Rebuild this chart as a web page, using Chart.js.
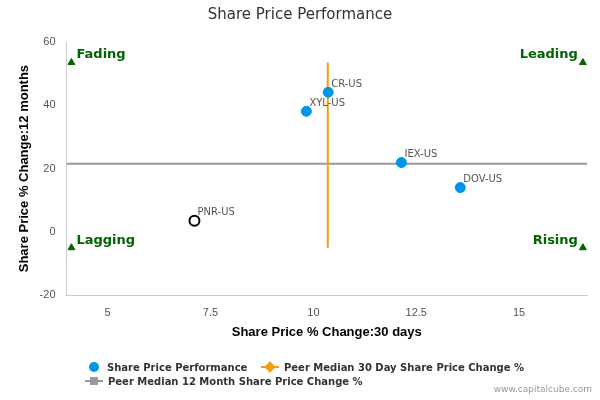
<!DOCTYPE html>
<html><head><meta charset="utf-8">
<script src="https://cdn.jsdelivr.net/npm/chart.js@4"></script>
<style>
body{margin:0;width:600px;height:400px;background:#fff;font-family:"DejaVu Sans",sans-serif;position:relative;overflow:hidden}
#c{position:absolute;left:0;top:0}
.lg{position:absolute;font-size:10px;font-weight:bold;color:#333;white-space:nowrap}
.cr{display:inline-block;width:10px;height:10px;border-radius:50%;background:#0095e8;vertical-align:-1px;margin-right:8px;margin-left:4px}
.ln{display:inline-block;width:18px;height:2px;vertical-align:3px;margin-right:5px;position:relative}
.ln i{position:absolute;left:5px;top:-3px;width:8px;height:8px}
.credit{position:absolute;right:8px;bottom:6px;font-size:9px;color:#999}
</style></head><body>
<canvas id="c" width="600" height="400"></canvas>
<div class="lg" style="left:85px;top:362px"><span class="cr"></span>Share Price Performance</div>
<div class="lg" style="left:261px;top:362px"><span class="ln" style="background:#f39c12"><i style="background:#f39c12;transform:rotate(45deg)"></i></span>Peer Median 30 Day Share Price Change %</div>
<div class="lg" style="left:85px;top:376px"><span class="ln" style="background:#999"><i style="background:#999"></i></span>Peer Median 12 Month Share Price Change %</div>
<div class="credit">www.capitalcube.com</div>
<script>
const tickers=["CR-US","XYL-US","IEX-US","DOV-US","PNR-US"];
const x30=[10.36,9.83,12.14,13.57,7.11];
const y12=[44.1,38.1,21.9,14.0,3.5];
const medianX=10.35, medianY=21.5;
const quadNames=["Fading","Leading","Lagging","Rising"];
const quadX=[4.12,16.55,4.12,16.55];
const quadY=[53.5,53.5,-5,-5];
const xRange=[4.0,16.65], yRange=[-20,60];

const main=tickers.slice(0,4).map((t,i)=>({x:x30[i],y:y12[i]}));
const pnr=[{x:x30[4],y:y12[4]}];
const labelPlugin={id:'lbl',afterDatasetsDraw(ch){
 const c=ch.ctx,xs=ch.scales.x,ys=ch.scales.y;
 c.save();c.font='10px "DejaVu Sans"';c.fillStyle='#555';c.textBaseline='bottom';c.textAlign='left';
 tickers.forEach((t,i)=>c.fillText(t,xs.getPixelForValue(x30[i])+3,ys.getPixelForValue(y12[i])-3));
 c.font='bold 13px "DejaVu Sans"';c.fillStyle='#006400';
 quadNames.forEach((q,i)=>{const px=xs.getPixelForValue(quadX[i]),py=ys.getPixelForValue(quadY[i]);
  c.textAlign=i%2?'right':'left';c.textBaseline='bottom';c.fillText(q,px+(i%2?-5:5),py-1);});
 c.restore();}};
new Chart(document.getElementById('c'),{
 type:'scatter',
 data:{datasets:[
  {data:main,backgroundColor:'#0095e8',borderColor:'#0095e8',pointRadius:5,order:1},
  {data:pnr,backgroundColor:'#fff',borderColor:'#000',borderWidth:2,pointRadius:5,order:1},
  {type:'line',data:[{x:medianX,y:quadY[0]},{x:medianX,y:quadY[2]}],borderColor:'#f39c12',borderWidth:2,pointRadius:0,order:2},
  {type:'line',data:[{x:xRange[0],y:medianY},{x:xRange[1],y:medianY}],borderColor:'#999',borderWidth:2,pointRadius:0,order:3},
  {data:quadX.map((x,i)=>({x,y:quadY[i]})),pointStyle:'triangle',backgroundColor:'#006400',borderColor:'#006400',pointRadius:4,order:0}
 ]},
 options:{responsive:false,animation:false,
  layout:{padding:{left:13,right:13,top:0,bottom:56}},
  plugins:{legend:{display:false},tooltip:{enabled:false},
   title:{display:true,text:'Share Price Performance',color:'#333',font:{size:15,weight:'normal',family:'"DejaVu Sans"'},padding:{top:6,bottom:18}}},
  scales:{
   x:{type:'linear',min:xRange[0],max:xRange[1],afterBuildTicks:a=>{a.ticks=[5,7.5,10,12.5,15].map(v=>({value:v}))},
    grid:{display:false,drawTicks:true},border:{color:'#ccc'},ticks:{color:'#555',font:{size:11}},
    title:{display:true,text:'Share Price % Change:30 days',color:'#000',font:{size:13,weight:'bold'},padding:{top:2}}},
   y:{min:yRange[0],max:yRange[1],ticks:{stepSize:20,color:'#555',font:{size:11}},grid:{display:false},border:{color:'#ccc'},
    title:{display:true,text:'Share Price % Change:12 months',color:'#000',font:{size:13,weight:'bold'}}}
  }},
 plugins:[labelPlugin]});
</script></body></html>
